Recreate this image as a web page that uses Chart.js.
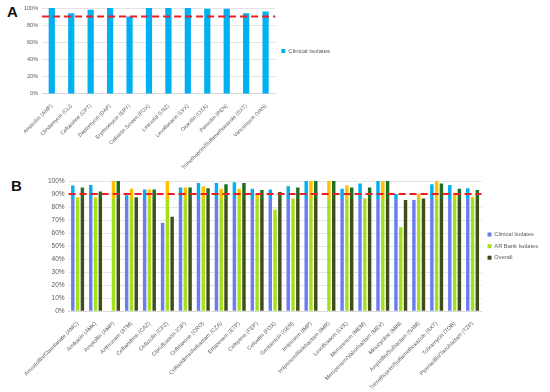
<!DOCTYPE html>
<html>
<head>
<meta charset="utf-8">
<script src="https://cdn.jsdelivr.net/npm/chart.js@4"></script>
<style>
  body { margin: 0; background: #fff; width: 550px; height: 392px; position: relative; overflow: hidden; font-family: "Liberation Sans", Arial, sans-serif; }
  .panel { position: absolute; }
  .tag { position: absolute; font-weight: bold; font-size: 15px; color: #111; }
</style>
</head>
<body>
<div class="tag" style="left:7px; top:3px;">A</div>
<div class="tag" style="left:11px; top:177px;">B</div>
<div class="panel" style="left:0; top:0; width:342px; height:172px;"><canvas id="chartA"></canvas></div>
<div class="panel" style="left:0; top:170px; width:550px; height:222px;"><canvas id="chartB"></canvas></div>
<script>
// panel A data (Gram-positive)
const labelsA = ["Ampicillin (AMP)", "Clindamycin (CLI)", "Ceftaroline (CPT)", "Daptomycin (DAP)",
    "Erythromycin (ERY)", "Cefoxitin Screen (FOX)", "Linezolid (LNZ)", "Levofloxacin (LVX)",
    "Oxacillin (OXA)", "Penicillin (PEN)", "Trimethoprim/Sulfamethoxazole (SXT)", "Vancomycin (VAN)"]
const clinicalA = [100, 94, 98, 100, 90, 100, 100, 100, 99, 99, 94, 96]

// panel B data (Gram-negative)
const labelsB = ["Amoxicillin/Clavulanate (AMC)", "Amikacin (AMK)", "Ampicillin (AMP)", "Aztreonam (ATM)",
    "Ceftazidime (CAZ)", "Cefazolin (CFZ)", "Ciprofloxacin (CIP)", "Ceftriaxone (CRO)",
    "Ceftazidime/Avibactam (CZA)", "Ertapenem (ETP)", "Cefepime (FEP)", "Cefoxitin (FOX)",
    "Gentamicin (GEN)", "Imipenem (IMP)", "Imipenem/Relebactam (IMR)", "Levofloxacin (LVX)",
    "Meropenem (MEM)", "Meropenem/Vaborbactam (MEV)", "Minocycline (MIN)", "Ampicillin/Sulbactam (SAM)",
    "Trimethoprim/Sulfamethoxazole (SXT)", "Tobramycin (TOB)", "Piperacillin/Tazobactam (TZP)"]
const clinicalB = [96.5, 97, null, 89, 93.5, 68, 95, 98.5, 98.5, 99, 94, 93.5, 96, 100, null, 94, 98, 100, 90, 85.5, 97.5, 97, 94.5]
const arBankB   = [87.5, 87.5, 100, 94, 93.5, 100, 95, 96, 94, 94, 90.5, 78, 86.5, 100, 100, 96.5, 86.5, 100, 64.5, 90, 100, 91, 88]
const overallB  = [95, 92, 100, 87.5, 93.5, 72.5, 95, 94.5, 97.5, 98.5, 93, 91.5, 95, 100, 100, 95, 95, 100, 85.5, 86.5, 98, 94, 93]

const threshold = 90

const tickFont = { family: "'Liberation Sans', Arial, sans-serif" }
const grey = "#595959"

let thresholdLine = {
    id: "thresholdLine",
    afterDatasetsDraw(chart) {
        let { ctx, chartArea, scales } = chart
        let py = scales.y.getPixelForValue(threshold)
        ctx.save()
        ctx.strokeStyle = "#ee1c24"
        ctx.lineWidth = 2
        ctx.setLineDash([7, 4])
        ctx.beginPath()
        ctx.moveTo(chartArea.left, py)
        ctx.lineTo(chartArea.right, py)
        ctx.stroke()
        ctx.restore()
    },
}

// bars in B change colour near the top, like the source figure
function twoTone(top, bottom) {
    return (c) => {
        let chart = c.chart
        if (!chart.chartArea) return bottom
        let { top: t, bottom: b } = chart.chartArea
        let split = chart.scales.y.getPixelForValue(86.5)
        let f = Math.min(1, Math.max(0, (split - t) / (b - t)))
        let g = chart.ctx.createLinearGradient(0, t, 0, b)
        g.addColorStop(0, top)
        g.addColorStop(f, top)
        g.addColorStop(f, bottom)
        g.addColorStop(1, bottom)
        return g
    }
}

function yAxis(size) {
    return {
        min: 0,
        max: 100,
        ticks: { stepSize: 10, color: grey, font: { ...tickFont, size: size }, padding: 4, callback: (v) => v + "%" },
        grid: { color: "#e4e4e4", drawTicks: false },
        border: { display: false },
    }
}

function xAxis(size) {
    return {
        ticks: { color: grey, font: { ...tickFont, size: size }, minRotation: 45, maxRotation: 45, autoSkip: false, padding: 1 },
        grid: { display: false },
        border: { color: "#d9d9d9" },
    }
}

function legendOpts(size) {
    return {
        position: "right",
        fullSize: false,
        labels: { boxWidth: 4, boxHeight: 4, padding: 6, color: grey, font: { ...tickFont, size: size } },
    }
}

new Chart(document.getElementById("chartA"), {
    type: "bar",
    data: {
        labels: labelsA,
        datasets: [
            { label: "Clinical Isolates", data: clinicalA, backgroundColor: "#00b0f0", barPercentage: 0.32, categoryPercentage: 1 },
        ],
    },
    options: {
        responsive: true,
        maintainAspectRatio: false,
        animation: false,
        layout: { padding: { left: 20, top: 8, right: 2, bottom: 0 } },
        scales: { x: xAxis(5.3), y: yAxis(5.5) },
        plugins: { legend: legendOpts(6), tooltip: { enabled: false } },
    },
    plugins: [thresholdLine],
})

new Chart(document.getElementById("chartB"), {
    type: "bar",
    data: {
        labels: labelsB,
        datasets: [
            { label: "Clinical Isolates", data: clinicalB, backgroundColor: twoTone("#00b0f0", "#6a7ef2") },
            { label: "AR Bank Isolates", data: arBankB, backgroundColor: twoTone("#ffc000", "#a4e01c") },
            { label: "Overall", data: overallB, backgroundColor: twoTone("#1e6e23", "#3f4c1e") },
        ],
    },
    options: {
        responsive: true,
        maintainAspectRatio: false,
        animation: false,
        datasets: { bar: { barPercentage: 0.72, categoryPercentage: 0.8 } },
        layout: { padding: { left: 44, top: 11, right: 2, bottom: 0 } },
        scales: { x: xAxis(5.5), y: yAxis(6.5) },
        plugins: { legend: legendOpts(5.7), tooltip: { enabled: false } },
    },
    plugins: [thresholdLine],
})
</script>
</body>
</html>
